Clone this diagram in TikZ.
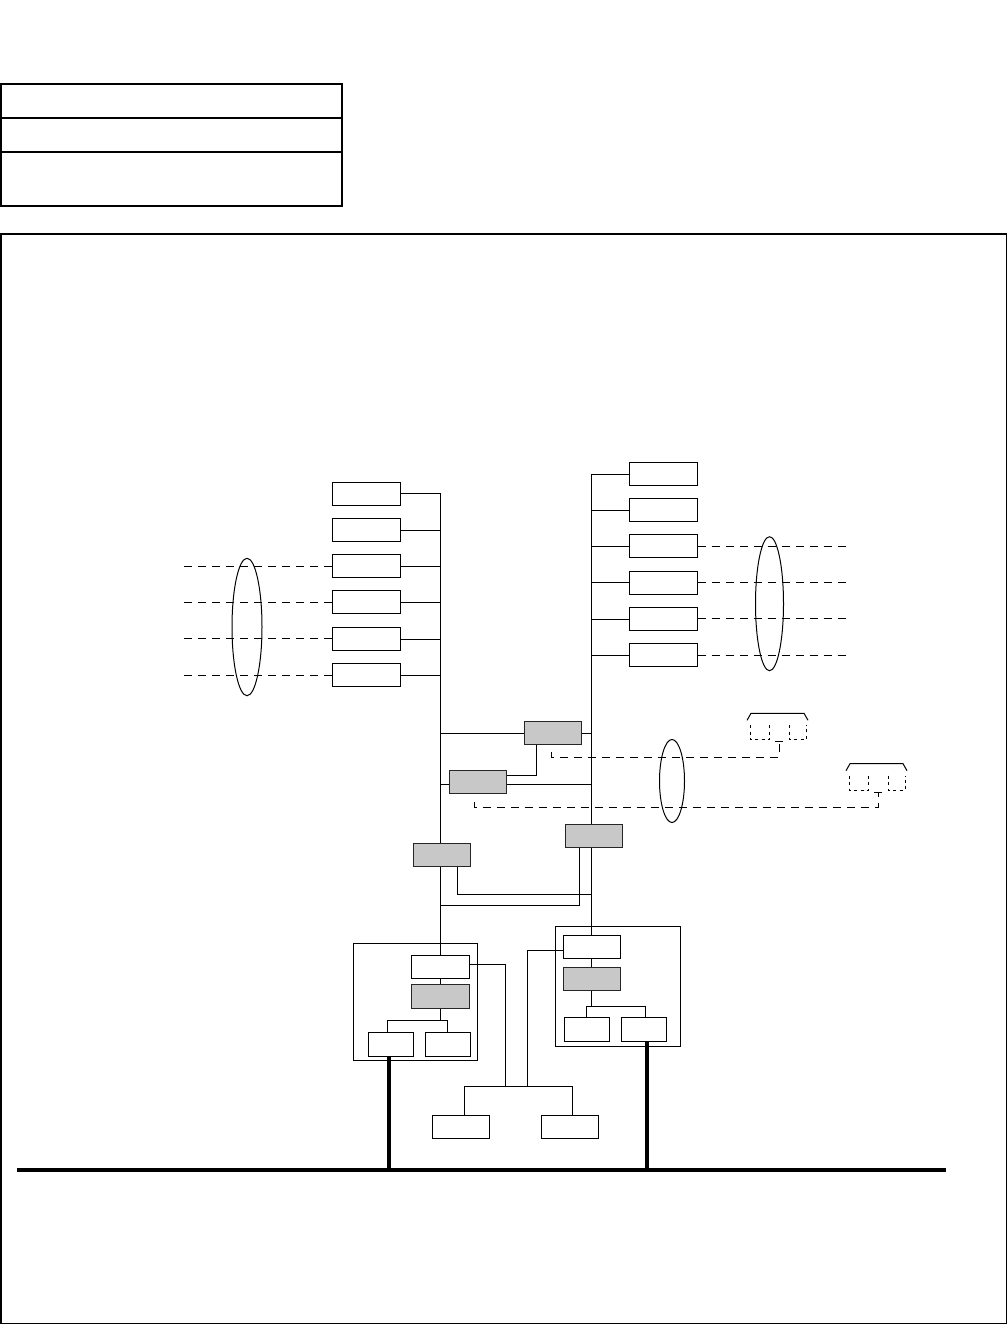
\documentclass[tikz,border=0pt]{standalone}
\usetikzlibrary{backgrounds}
\definecolor{boxgray}{RGB}{200,200,200}
\tikzset{
  wbox/.style={draw=black, fill=white, inner sep=0pt, line width=1pt, minimum height=23pt, minimum width=#1},
  wbox/.default=57pt,
  gbox/.style={draw=black!85, fill=boxgray, inner sep=0pt, line width=1pt, minimum height=23pt, minimum width=#1},
  gbox/.default=57pt,
  dline/.style={line width=1pt, dash pattern=on 8pt off 6pt},
  sdash/.style={line width=1pt, dash pattern=on 3pt off 3.5pt},
  busline/.style={line width=4.3pt},
  frameline/.style={line width=1.2pt},
  conn/.pic={
    \draw[line width=1pt] (-4,7) -- (0,0) -- (53,0) -- (57,7);
    \draw[sdash] (-1,12) -- (-1,26.5) -- (18.5,26.5) -- (18.5,12);
    \draw[sdash] (38,12) -- (38,26.5) -- (55,26.5) -- (55,12);
    \draw[line width=1pt] (24,28.5) -- (32,28.5);
    \coordinate (-t) at (28,28.5);
  }
}
\begin{document}
\begin{tikzpicture}[x=1pt,y=-1pt,line width=1pt]
\useasboundingbox (0,0) rectangle (1008,1325);

% header table and outer frame
\draw[frameline] (1,84) rectangle (342,206);
\draw[frameline] (1,118) -- (342,118);
\draw[frameline] (1,152) -- (342,152);
\draw[frameline] (1,234) rectangle (1006.5,1323.5);

% reference coordinates
\coordinate (LT) at (440.5,0);
\coordinate (RT) at (591,0);
\coordinate (LD) at (178,0);
\coordinate (RD) at (851,0);
\coordinate (busL) at (17,1170);
\coordinate (busR) at (946,1170);

% left column
\foreach \i/\y in {1/493.5,2/529.8,3/566.1,4/602.4,5/638.7,6/675}
  \node[wbox=68pt] (L\i) at (366,\y) {};
% right column
\foreach \i/\y in {1/473.7,2/510,3/546.3,4/582.6,5/618.9,6/655.2}
  \node[wbox=68pt] (R\i) at (663,\y) {};

% middle gray boxes
\node[gbox] (GA) at (552.7,733.3) {};
\node[gbox] (GB) at (478,781.5) {};
\node[gbox] (GC) at (594,836) {};
\node[gbox] (GD) at (442,854.7) {};

% containers
\node[draw, inner sep=0pt, minimum width=124pt, minimum height=117pt] (LC) at (415.3,1001.8) {};
\node[draw, inner sep=0pt, minimum width=124.3pt, minimum height=120pt] (RC) at (617.85,986.3) {};

% inside left container
\node[wbox=58pt] (LW) at (440.5,966.8) {};
\node[gbox=58pt, minimum height=24pt] (LG) at (440.5,996.3) {};
\node[wbox=45pt, minimum height=23.6pt] (LsL) at (390.8,1044.5) {};
\node[wbox=45pt, minimum height=23.6pt] (LsR) at (448.3,1044.5) {};
% inside right container
\node[wbox=57pt] (RW) at (591.5,946.8) {};
\node[gbox=57pt] (RG) at (591.5,978.8) {};
\node[wbox=45pt, minimum height=23.6pt] (RsL) at (586.8,1029.5) {};
\node[wbox=45pt, minimum height=23.6pt] (RsR) at (644.2,1029.5) {};
% bottom boxes
\node[wbox=57pt] (BL) at (460.8,1127.2) {};
\node[wbox=57pt] (BR) at (570.2,1127.2) {};

% connector pieces
\pic (c1) at (751,713.3) {conn};
\pic (c2) at (850,763.7) {conn};

% grouping ellipses
\draw (247,627) ellipse [x radius=15pt, y radius=68.7pt];
\draw (769.5,603.7) ellipse [x radius=14pt, y radius=67pt];
\draw (672,781) ellipse [x radius=12.5pt, y radius=41.5pt];

% helper coordinates
\coordinate (GBw) at ([yshift=-2.8pt]GB.west);
\coordinate (GBe) at ([yshift=-2.8pt]GB.east);
\coordinate (GBe2) at ([yshift=6.2pt]GB.east);
\coordinate (GAs) at ([xshift=-16.4pt]GA.south);
\coordinate (GDs) at ([xshift=15.3pt]GD.south);
\coordinate (GCs) at ([xshift=-15.3pt]GC.south);
\coordinate (Y894) at (0,894.3);
\coordinate (Y905) at (0,905.3);
\coordinate (LJ) at (440.5,1020.3);
\coordinate (RJ) at (591.5,1005.7);
\coordinate (BJ1) at (505.3,1086);
\coordinate (BJ2) at (527.3,1086);
\coordinate (LWe) at ([yshift=2.8pt]LW.east);
\coordinate (RWw) at ([yshift=-3.5pt]RW.west);
\coordinate (BLn) at ([xshift=3.5pt]BL.north);
\coordinate (BRn) at ([xshift=2pt]BR.north);
\coordinate (RsRb) at ([xshift=2.5pt]RsR.south);
\coordinate (LsLb) at ([xshift=-1.5pt]LsL.south);
\coordinate (D1s) at (551,752);
\coordinate (Y757) at (0,757);
\coordinate (D2s) at (474.3,802);
\coordinate (Y807) at (0,807.5);

\begin{scope}[on background layer]
  \fill[white] (0,0) rectangle (1008,1325);
  % trunks
  \draw (L1.east -| LT) -- (LW.north -| LT);
  \draw (R1.west -| RT) -- (RW.north -| RT);
  \foreach \i in {1,...,6} {
    \draw (L\i.east) -- (L\i.east -| LT);
    \draw (R\i.west) -- (R\i.west -| RT);
  }
  % dashed lines into ellipses
  \foreach \i in {3,...,6} {
    \draw[dline] (L\i.west) -- (L\i.west -| LD);
    \draw[dline] (R\i.east) -- (R\i.east -| RD);
  }
  % gray box links
  \draw (GA.west -| LT) -- (GA.west);
  \draw (GA.east) -- (GA.east -| RT);
  \draw (GBw -| LT) -- (GBw);
  \draw (GBe) -- (GBe -| RT);
  \draw (GBe2) -| (GAs);
  \draw (GDs) |- (Y894 -| RT);
  \draw (GCs) |- (Y905 -| LT);
  % dashed links to connectors
  \draw[dline, dash pattern=on 8pt off 6pt] (D1s) -- (D1s |- Y757) -- (c1-t |- Y757) -- (c1-t);
  \draw[dline] (D2s) -- (D2s |- Y807) -- (c2-t |- Y807) -- (c2-t);
  % inside containers
  \draw (LW.south) -- (LG.north);
  \draw (LG.south) -- (LJ);
  \draw ([xshift=-3.5pt]LsL.north) |- (LJ) -| ([xshift=-1pt]LsR.north);
  \draw (RW.south) -- (RG.north);
  \draw (RG.south) -- (RJ);
  \draw ([xshift=-1pt]RsL.north) |- (RJ) -| ([xshift=1pt]RsR.north);
  % links to bottom boxes
  \draw (LWe) -| (BJ1);
  \draw (RWw) -| (BJ2);
  \draw (BLn) |- (BJ1) -- (BJ2) -| (BRn);
  % bus
  \draw[busline] (busL) -- (busR);
  \draw[busline] (LsLb) -- (LsLb |- busL);
  \draw[busline] (RsRb) -- (RsRb |- busL);
\end{scope}
\end{tikzpicture}
\end{document}
